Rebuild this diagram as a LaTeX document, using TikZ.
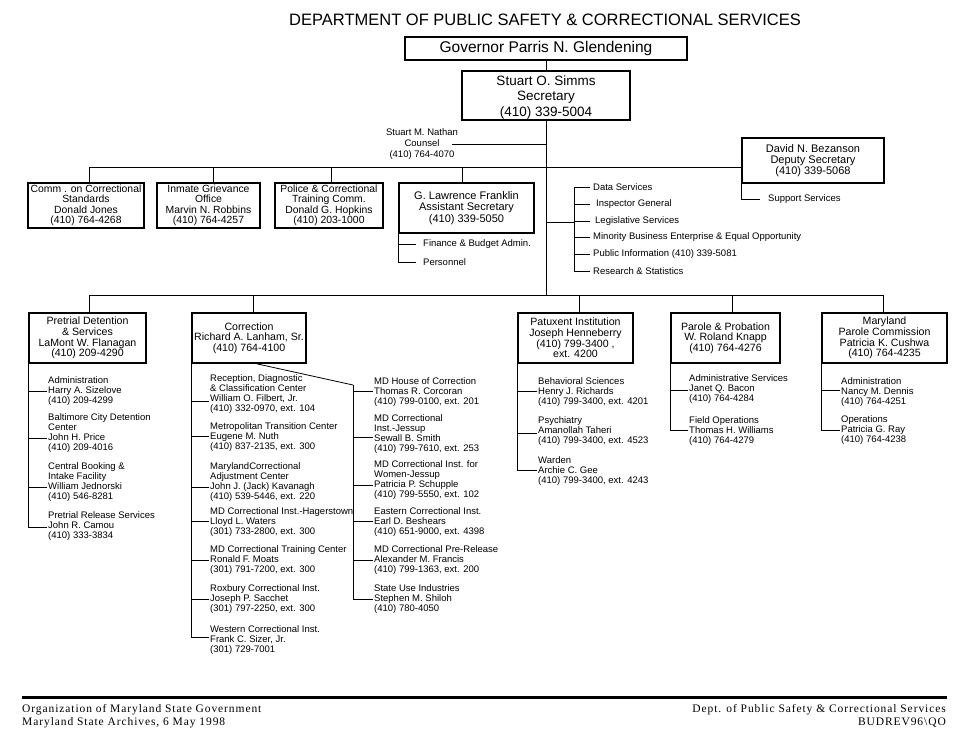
\documentclass[tikz,border=0pt]{standalone}
\usepackage{fontspec}
\setmainfont{Liberation Sans}
\newfontfamily\footfont[LetterSpace=8]{Liberation Serif}
\usetikzlibrary{calc}
\tikzset{
  ln/.style={line width=0.8pt},
  orgbox/.style={draw, line width=1.7pt, align=center, inner sep=0pt},
  hdA/.style={font=\fontsize{10.4}{10.4}\selectfont},
  hdB/.style={font=\fontsize{10.6}{10.7}\selectfont},
  item/.style={align=left, anchor=west, inner xsep=1pt, inner ysep=0pt, font=\fontsize{9.5}{10}\selectfont},
  staff/.style={anchor=west, inner xsep=3pt, inner ysep=0pt, font=\fontsize{9.5}{10}\selectfont},
  foot/.style={inner sep=0pt, font=\footfont\fontsize{11.5}{12}\selectfont},
}
\newcommand\orgsub[6]{%
  \node[item] (#1) at (#3,#4) {#6};
  \draw[ln] (#2) |- ($(#1.west)+(0,#5)$);
}
\begin{document}
\begin{tikzpicture}[x=1pt,y=-1pt]
\useasboundingbox (0,0) rectangle (969,745);
\fill[white] (0,0) rectangle (969,745);

\node[font=\fontsize{16.5}{18}\selectfont, inner sep=0pt] (title) at (545,20) {DEPARTMENT OF PUBLIC SAFETY \& CORRECTIONAL SERVICES};

\node[orgbox, minimum width=282pt, minimum height=23pt, font=\fontsize{15.5}{17}\selectfont] (gov) at (546,48.5) {Governor Parris N. Glendening};
\node[orgbox, minimum width=168pt, minimum height=49pt, font=\fontsize{13.5}{15.8}\selectfont] (sec) at (546,95.5) {\rule{0pt}{13.5pt}Stuart O. Simms\\Secretary\\(410) 339-5004};
\draw[ln] (gov) -- (sec);

\coordinate (bus2) at (546,295);
\draw[ln] (sec.south) -- (bus2);

% counsel
\node[align=center, inner sep=0pt, font=\fontsize{9.5}{11}\selectfont] (counsel) at (422,144.5) {Stuart M. Nathan\\Counsel\\(410) 764-4070};
\draw[ln] ([xshift=-6pt]counsel.east) -- (counsel.east -| sec.south);

% row 1
\coordinate (b1a) at (89,167);
\coordinate (b1b) at (213,167);
\coordinate (b1c) at (331,167);
\coordinate (b1d) at (462,167);
\node[orgbox, hdA, minimum width=116pt, minimum height=45pt] (comm) at (86,205.5) {Comm . on Correctional\\Standards\\Donald Jones\\(410) 764-4268};
\node[orgbox, hdA, minimum width=103pt, minimum height=45pt] (igo) at (208.5,205.5) {Inmate Grievance\\Office\\Marvin N. Robbins\\(410) 764-4257};
\node[orgbox, hdA, minimum width=108pt, minimum height=45pt] (ptc) at (329,205.5) {Police \& Correctional\\Training Comm.\\Donald G. Hopkins\\(410) 203-1000};
\node[orgbox, minimum width=135pt, minimum height=50pt, font=\fontsize{11}{11.7}\selectfont] (frank) at (466.5,208) {G. Lawrence Franklin\\Assistant Secretary\\(410) 339-5050};
\node[orgbox, minimum width=142pt, minimum height=45pt, font=\fontsize{11}{11}\selectfont] (dep) at (813,160.5) {David N. Bezanson\\Deputy Secretary\\(410) 339-5068};
\draw[ln] (b1a) -- (b1a -| dep.west);
\draw[ln] (b1a) -- (b1a |- comm.north);
\draw[ln] (b1b) -- (b1b |- igo.north);
\draw[ln] (b1c) -- (b1c |- ptc.north);
\draw[ln] (b1d) -- (b1d |- frank.north);

% Franklin sub-units
\node[staff, inner xsep=7pt] (fin) at (416,244) {Finance \& Budget Admin.};
\node[staff, inner xsep=7pt] (pers) at (416,262) {Personnel};
\draw[ln] (frank.south west) |- (fin.west);
\draw[ln] (frank.south west) |- (pers.west);

% Deputy sub-unit
\node[staff, inner xsep=8pt] (sup) at (760,199) {Support Services};
\draw[ln] (dep.south west) |- (sup.west);

% staff list
\coordinate (st) at (574,187);
\coordinate (stj) at (574,222);
\draw[ln] (stj -| sec.south) -- (stj);
\node[staff] (ds) at (590,187) {Data Services};
\node[staff, inner xsep=6pt] (ig) at (590,204) {Inspector General};
\node[staff, inner xsep=5pt] (ls) at (590,221) {Legislative Services};
\node[staff] (mb) at (590,237.5) {Minority Business Enterprise \& Equal Opportunity};
\node[staff] (pi) at (590,254) {Public Information (410) 339-5081};
\node[staff] (rs) at (590,271) {Research \& Statistics};
\foreach \n in {ds,ig,ls,mb,pi,rs} {\draw[ln] (st) |- (\n.west);}

% row 2
\coordinate (b2a) at (89,295);
\coordinate (b2b) at (253,295);
\coordinate (b2c) at (579,295);
\coordinate (b2d) at (732,295);
\coordinate (b2e) at (883,295);
\draw[ln] (b2a) -- (b2e);
\node[orgbox, hdB, minimum width=117pt, minimum height=50pt] (pre) at (87.5,338) {Pretrial Detention\\\& Services\\LaMont W. Flanagan\\(410) 209-4290};
\node[orgbox, hdB, minimum width=114pt, minimum height=50pt] (cor) at (249,338) {Correction\\Richard A. Lanham, Sr.\\(410) 764-4100};
\node[orgbox, hdB, minimum width=115pt, minimum height=50pt] (pat) at (575.5,338) {Patuxent Institution\\Joseph Henneberry\\(410) 799-3400 ,\\ext. 4200};
\node[orgbox, hdB, minimum width=109pt, minimum height=50pt] (par) at (725.5,338) {Parole \& Probation\\W. Roland Knapp\\(410) 764-4276};
\node[orgbox, hdB, minimum width=125pt, minimum height=50pt] (mpc) at (884.5,338) {Maryland\\Parole Commission\\Patricia K. Cushwa\\(410) 764-4235};
\draw[ln] (b2a) -- (b2a |- pre.north);
\draw[ln] (b2b) -- (b2b |- cor.north);
\draw[ln] (b2c) -- (b2c |- pat.north);
\draw[ln] (b2d) -- (b2d |- par.north);
\draw[ln] (b2e) -- (b2e |- mpc.north);

% Pretrial units
\orgsub{p1}{pre.south west}{47}{391}{0}{Administration\\Harry A. Sizelove\\(410) 209-4299}
\orgsub{p2}{pre.south west}{47}{433.5}{5}{Baltimore City Detention\\Center\\John H. Price\\(410) 209-4016}
\orgsub{p3}{pre.south west}{47}{482}{5}{Central Booking \&\\Intake Facility\\William Jednorski\\(410) 546-8281}
\orgsub{p4}{pre.south west}{47}{526}{1}{Pretrial Release Services\\John R. Camou\\(410) 333-3834}

% Correction units, left column
\orgsub{c1}{cor.south west}{209}{394}{7}{Reception, Diagnostic\\\& Classification Center\\William O. Filbert, Jr.\\(410) 332-0970, ext. 104}
\orgsub{c2}{cor.south west}{209}{436.7}{0}{Metropolitan Transition Center\\Eugene M. Nuth\\(410) 837-2135, ext. 300}
\orgsub{c3}{cor.south west}{209}{482}{5}{MarylandCorrectional\\Adjustment Center\\John J. (Jack) Kavanagh\\(410) 539-5446, ext. 220}
\orgsub{c4}{cor.south west}{209}{521.7}{0}{MD Correctional Inst.-Hagerstown\\Lloyd L. Waters\\(301) 733-2800, ext. 300}
\orgsub{c5}{cor.south west}{209}{560}{0}{MD Correctional Training Center\\Ronald F. Moats\\(301) 791-7200, ext. 300}
\orgsub{c6}{cor.south west}{209}{599.3}{0}{Roxbury Correctional Inst.\\Joseph P. Sacchet\\(301) 797-2250, ext. 300}
\orgsub{c7}{cor.south west}{209}{640}{-3}{Western Correctional Inst.\\Frank C. Sizer, Jr.\\(301) 729-7001}

% Correction units, right column
\coordinate (cr) at (353,385);
\draw[ln] ([xshift=8pt]cor.south) -- (cr);
\orgsub{d1}{cr}{373}{391.7}{0}{MD House of Correction\\Thomas R. Corcoran\\(410) 799-0100, ext. 201}
\orgsub{d2}{cr}{373}{434}{3}{MD Correctional\\Inst.-Jessup\\Sewall B. Smith\\(410) 799-7610, ext. 253}
\orgsub{d3}{cr}{373}{480.5}{5}{MD Correctional Inst. for\\Women-Jessup\\Patricia P. Schupple\\(410) 799-5550, ext. 102}
\orgsub{d4}{cr}{373}{521.7}{0}{Eastern Correctional Inst.\\Earl D. Beshears\\(410) 651-9000, ext. 4398}
\orgsub{d5}{cr}{373}{560}{0}{MD Correctional Pre-Release\\Alexander M. Francis\\(410) 799-1363, ext. 200}
\orgsub{d6}{cr}{373}{599.3}{0}{State Use Industries\\Stephen M. Shiloh\\(410) 780-4050}

% Patuxent units
\orgsub{e1}{pat.south west}{537}{391.7}{0}{Behavioral Sciences\\Henry J. Richards\\(410) 799-3400, ext. 4201}
\orgsub{e2}{pat.south west}{537}{430.7}{3}{Psychiatry\\Amanollah Taheri\\(410) 799-3400, ext. 4523}
\orgsub{e3}{pat.south west}{537}{470.7}{0}{Warden\\Archie C. Gee\\(410) 799-3400, ext. 4243}

% Parole & Probation units
\orgsub{f1}{par.south west}{688}{389.5}{1}{Administrative Services\\Janet Q. Bacon\\(410) 764-4284}
\orgsub{f2}{par.south west}{688}{431}{-1}{Field Operations\\Thomas H. Williams\\(410) 764-4279}

% Parole Commission units
\orgsub{g1}{mpc.south west}{840}{391.7}{-1}{Administration\\Nancy M. Dennis\\(410) 764-4251}
\orgsub{g2}{mpc.south west}{840}{430.5}{0}{Operations\\Patricia G. Ray\\(410) 764-4238}

% footer
\coordinate (fl) at (22,697);
\coordinate (fr) at (947,697);
\draw[line width=3pt] (fl) -- (fr);
\node[foot, anchor=west] (ft1) at (22,710) {Organization of Maryland State Government};
\node[foot, anchor=west] (ft2) at (22,723) {Maryland State Archives, 6 May 1998};
\node[foot, anchor=east] (ft3) at (946,710) {Dept. of Public Safety \& Correctional Services};
\node[foot, anchor=east] (ft4) at (946,723) {BUDREV96\textbackslash QO};
\end{tikzpicture}
\end{document}
